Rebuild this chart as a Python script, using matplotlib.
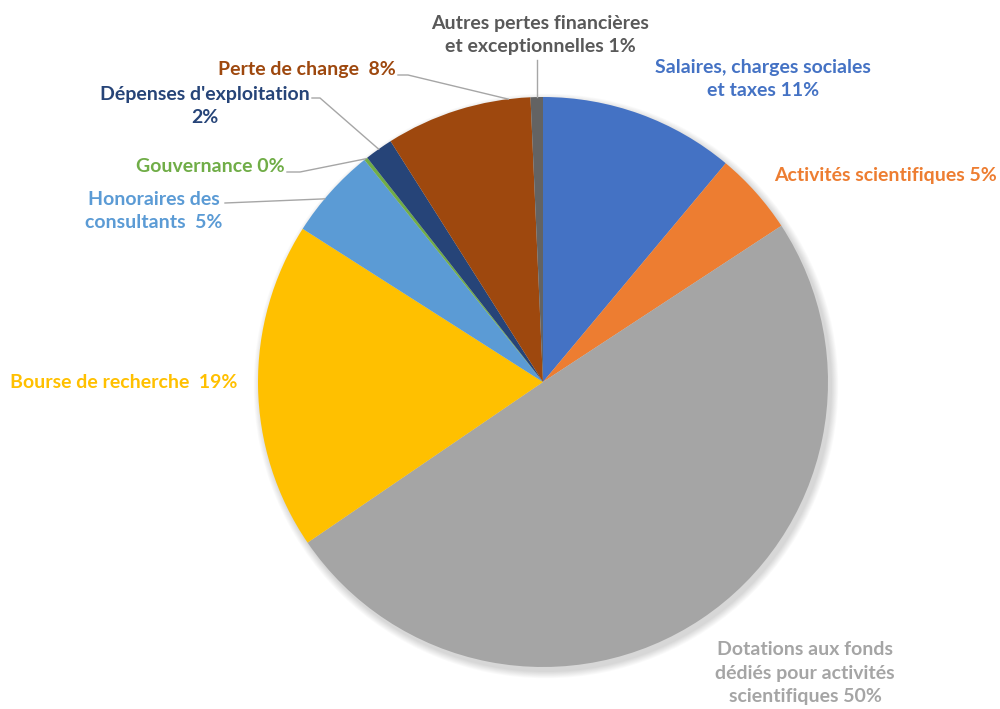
import matplotlib
matplotlib.use("Agg")
import matplotlib.pyplot as plt
import numpy as np

categories = ["Salaires, charges sociales\net taxes", "Activités scientifiques",
              "Dotations aux fonds\ndédiés pour activités\nscientifiques", "Bourse de recherche",
              "Honoraires des\nconsultants", "Gouvernance", "Dépenses d'exploitation",
              "Perte de change", "Autres pertes financières\net exceptionnelles"]
values = [11.1, 4.7, 49.8, 18.6, 5.2, 0.2, 1.6, 8.3, 0.7]
pct_labels = ["11%", "5%", "50%", "19%", "5%", "0%", "2%", "8%", "1%"]
colors = ["#4472C4", "#ED7D31", "#A5A5A5", "#FFC000", "#5B9BD5", "#70AD47",
          "#264478", "#9E480E", "#636363"]
label_colors = ["#4472C4", "#ED7D31", "#A5A5A5", "#FFC000", "#5B9BD5", "#70AD47",
                "#264478", "#9E480E", "#595959"]

W, H = 1000, 709
fig = plt.figure(figsize=(10, 7.09), dpi=100)
ax = fig.add_axes([0, 0, 1, 1])

cx, cy, R = 543, H - 382, 285

# soft shadow
for i in range(8):
    ax.add_patch(plt.Circle((cx + 3, cy - 4), R + 1 + i * 0.9, color="black",
                            alpha=0.018, lw=0, zorder=0))

wedges, _ = ax.pie(values, colors=colors, startangle=90, counterclock=False,
                   center=(cx, cy), radius=R, wedgeprops=dict(linewidth=0))
ax.set_xlim(0, W)
ax.set_ylim(0, H)
ax.set_aspect("equal")
ax.axis("off")

fp = dict(family=["Lato", "DejaVu Sans"], fontweight="bold", fontsize=14)

def edge_point(i, frac=0.5, r=R):
    w = wedges[i]
    th = np.deg2rad(w.theta1 + frac * (w.theta2 - w.theta1))
    return cx + r * np.cos(th), cy + r * np.sin(th)

def Y(py):
    return H - py

line_kw = dict(color="#A6A6A6", lw=1.0, zorder=1)

texts = [
    (0, "Salaires, charges sociales\net taxes 11%", 763, 79, "center"),
    (1, "Activités scientifiques 5%", 885, 176, "center"),
    (2, "Dotations aux fonds\ndédiés pour activités\nscientifiques 50%", 805, 673, "center"),
    (3, "Bourse de recherche  19%", 124, 383, "center"),
    (4, "Honoraires des\nconsultants  5%", 154, 211, "center"),
    (5, "Gouvernance 0%", 210, 166, "center"),
    (6, "Dépenses d'exploitation\n2%", 205, 106, "center"),
    (7, "Perte de change  8%", 307, 70, "center"),
    (8, "Autres pertes financières\net exceptionnelles 1%", 540, 35, "center"),
]
for i, t, x, y, ha in texts:
    ax.text(x, Y(y), t, color=label_colors[i], ha=ha, va="center",
            linespacing=1.45, **fp)

ex, ey = edge_point(8)
ax.plot([ex, ex], [Y(60), ey], **line_kw)
ex, ey = edge_point(7, 0.15)
ax.plot([398, 408, ex], [Y(75), Y(75), ey], **line_kw)
ex, ey = edge_point(6)
ax.plot([312, 320, ex], [Y(98), Y(98), ey], **line_kw)
ex, ey = edge_point(5)
ax.plot([287, 300, ex], [Y(172), Y(172), ey], **line_kw)
ex, ey = edge_point(4, 0.6)
ax.plot([225, ex], [Y(203), ey], **line_kw)

fig.savefig("out.png", dpi=100, facecolor="white")
